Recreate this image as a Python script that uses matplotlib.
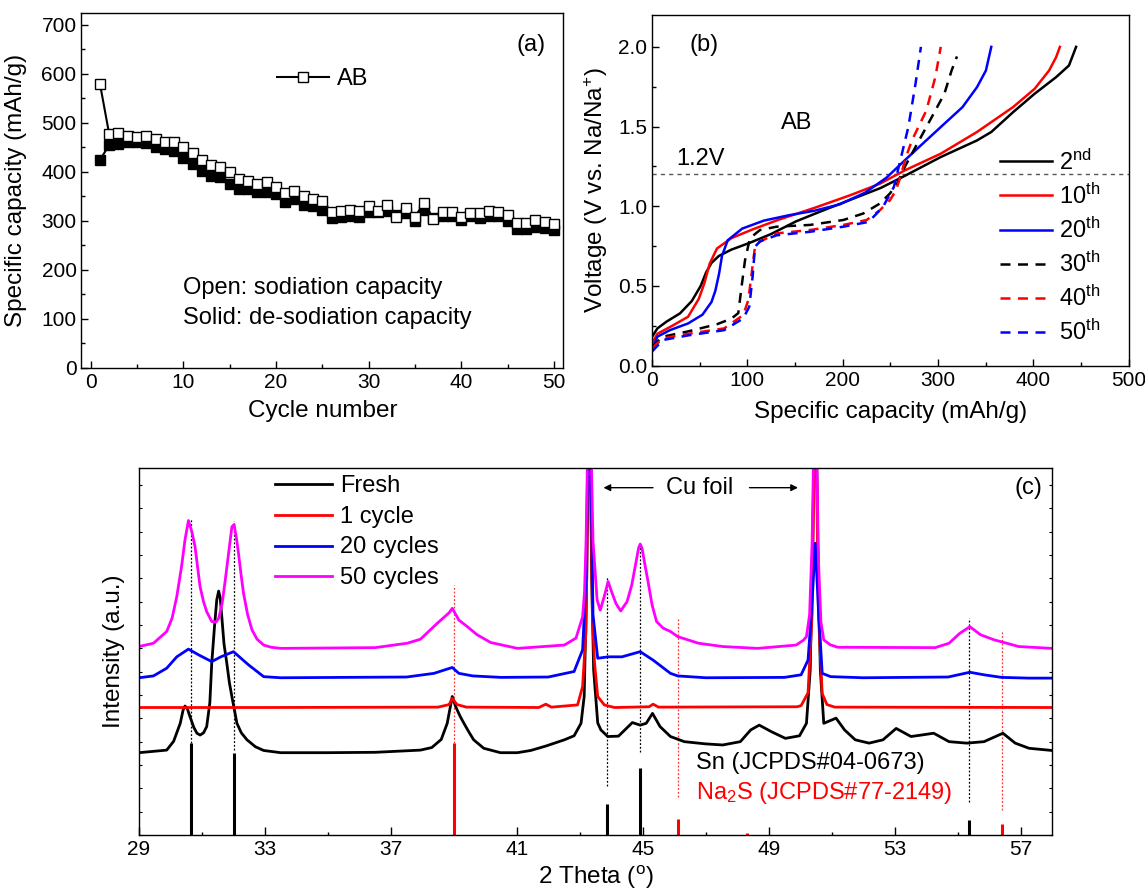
import numpy as np
import matplotlib
matplotlib.use('Agg')
import matplotlib.pyplot as plt
from matplotlib.ticker import MultipleLocator, NullFormatter, FormatStrFormatter

plt.rcParams['font.family'] = ['Liberation Sans', 'DejaVu Sans']
plt.rcParams['mathtext.fontset'] = 'custom'
plt.rcParams['mathtext.rm'] = 'Liberation Sans'
plt.rcParams['mathtext.it'] = 'Liberation Sans:italic'
plt.rcParams['axes.linewidth'] = 1.0

TICK_FS = 15
LABEL_FS = 17.5
TEXT_FS = 17

# ---------------- (a) cycling data ----------------
cycles = np.arange(1, 51)
sodiation = [580, 477, 479, 473, 471, 473, 467, 460, 460, 450, 438, 424, 413, 409, 399,
             385, 381, 375, 379, 370, 357, 360, 351, 345, 341, 318, 321, 323, 321, 330,
             321, 332, 308, 327, 308, 337, 304, 319, 319, 307, 315, 315, 320, 319, 312,
             296, 295, 302, 298, 293]
desodiation = [424, 455, 457, 460, 460, 458, 450, 446, 442, 428, 415, 402, 392, 390, 375,
               365, 365, 358, 358, 355, 338, 345, 333, 330, 322, 305, 308, 310, 307, 318,
               318, 320, 312, 315, 300, 322, 305, 310, 310, 302, 310, 305, 310, 310, 300,
               283, 284, 287, 285, 282]

# ---------------- (b) voltage profiles ----------------
cap_2nd = [0, 5.7, 15.2, 29.4, 41.7, 51.1, 56.8, 62.5, 70.1, 83.3, 102.3, 125, 151, 180,
           210, 240, 265, 303, 341, 356, 379, 401.5, 424, 437.5, 445]
v_2nd = [0.18, 0.234, 0.276, 0.328, 0.405, 0.50, 0.585, 0.645, 0.688, 0.728, 0.770, 0.826,
         0.905, 0.975, 1.045, 1.115, 1.19, 1.309, 1.413, 1.466, 1.591, 1.706, 1.81, 1.883, 2.0]
cap_10th = [0, 5.7, 22.7, 37.9, 49.2, 54.9, 60.6, 68.2, 83.3, 106, 132.6, 170.5, 208.3,
            238.6, 265.2, 303, 341, 378.8, 401.5, 416.7, 424, 428]
v_10th = [0.14, 0.2, 0.255, 0.307, 0.42, 0.516, 0.641, 0.735, 0.80, 0.856, 0.915, 0.99,
          1.07, 1.14, 1.225, 1.330, 1.466, 1.622, 1.737, 1.852, 1.935, 2.0]
cap_20th = [0, 5.7, 18.9, 37.9, 53, 62.5, 66.5, 70.5, 73.5, 79.5, 94.7, 117.4, 143.9, 170.5,
            197, 223.5, 246.2, 265.2, 280.3, 303, 325.8, 341, 350.4, 356]
v_20th = [0.098, 0.182, 0.223, 0.265, 0.32, 0.40, 0.47, 0.58, 0.69, 0.787, 0.86, 0.91, 0.944,
          0.972, 1.012, 1.085, 1.18, 1.288, 1.372, 1.497, 1.622, 1.747, 1.852, 2.0]
cap_30th = [0, 11.4, 37.9, 68.2, 83.3, 90.6, 94, 97.6, 102.8, 113.3, 130.8, 165.8, 200.8,
            221.8, 239.3, 249.8, 258, 265.2, 276.5, 291.7, 306.8, 314.4, 320]
v_30th = [0.119, 0.182, 0.215, 0.26, 0.295, 0.33, 0.495, 0.66, 0.80, 0.851, 0.872, 0.883,
          0.914, 0.955, 1.018, 1.081, 1.15, 1.246, 1.372, 1.539, 1.706, 1.852, 1.94]
cap_40th = [0, 11.4, 37.9, 75.8, 95.8, 101.1, 104.6, 108.1, 113.3, 130.8, 165.8, 200.8,
            225.3, 239.3, 249.8, 256, 261.4, 266, 272.7, 287.9, 297.3, 303]
v_40th = [0.109, 0.171, 0.2, 0.234, 0.318, 0.412, 0.579, 0.746, 0.778, 0.830, 0.851, 0.883,
          0.914, 0.976, 1.039, 1.10, 1.20, 1.30, 1.413, 1.601, 1.81, 2.0]
cap_50th = [0, 11.4, 37.9, 75.8, 95.8, 102.1, 105.6, 108.1, 113.3, 130.8, 165.8, 200.8,
            227.3, 242.4, 253.8, 261.4, 269, 276.5, 282.2]
v_50th = [0.088, 0.161, 0.19, 0.223, 0.297, 0.37, 0.558, 0.746, 0.78, 0.818, 0.84, 0.872,
          0.902, 0.996, 1.121, 1.309, 1.497, 1.768, 2.0]

# ---------------- (c) XRD patterns (offset, a.u.) ----------------
fresh_x = [29.0, 29.88, 30.1, 30.31, 30.4, 30.46, 30.53, 30.62, 30.74, 30.84, 30.94, 31.05,
           31.15, 31.25, 31.31, 31.40, 31.47, 31.53, 31.58, 31.63, 31.70, 31.79, 31.87,
           31.95, 32.11, 32.25, 32.43, 32.7, 32.96, 33.5, 35.0, 36.5, 37.94,
           38.3, 38.6, 38.79, 38.88, 38.95, 39.06, 39.2, 39.32, 39.48, 39.63, 39.95, 40.48,
           41.02, 41.44, 41.92, 42.51, 42.82, 43.04, 43.14, 43.22, 43.30, 43.38, 43.44, 43.57,
           43.67, 43.89, 44.23, 44.67, 44.92, 45.11, 45.31, 45.55, 45.88, 46.32,
           46.99, 47.54, 48.10, 48.43, 48.70, 49.09, 49.53, 49.98, 50.20, 50.32,
           50.40, 50.48, 50.56, 50.64, 50.75, 51.14, 51.41, 51.75, 52.19, 52.63,
           53.05, 53.52, 53.85, 54.24, 54.73, 55.29, 55.84, 56.44, 56.83, 57.27, 58.0]
fresh_y = [22.4, 23.1, 25.5, 30.4, 34.0, 35.1, 34.5, 32.2, 29.3, 27.7, 27.2, 27.8,
           29.5, 36.0, 46.7, 57.0, 64.0, 66.4, 64.5, 59.4, 52.0, 46.7, 41.5,
           37.7, 30.4, 27.8, 25.9, 24.0, 23.0, 22.4, 22.4, 22.5, 23.1,
           23.8, 26.0, 30.4, 34.5, 37.7, 34.9, 32.3, 30.4, 28.0, 25.9, 23.6, 22.4,
           22.4, 23.0, 24.2, 25.9, 27.0, 30.4, 37.7, 70, 130, 70, 45, 30.5,
           28.6, 26.8, 26.9, 30.6, 29.9, 30.4, 33.1, 29.5, 26.8, 25.4,
           24.8, 24.5, 25.4, 28.6, 29.9, 28.1, 26.3, 27.0, 30.4, 45,
           80, 130, 80, 45, 30.4, 31.8, 28.6, 25.9, 25.0, 25.9,
           29.0, 26.8, 27.2, 27.7, 25.4, 25.0, 25.4, 27.7, 25.0, 23.6, 23.0]
c1_x = [29.0, 33.0, 38.5, 38.85, 38.95, 39.1, 39.4, 41.7, 41.92, 42.1, 42.93, 43.09, 43.2,
        43.30, 43.40, 43.47, 43.57, 43.78, 44.1, 45.2, 45.33, 45.5, 49.9, 50.03, 50.25,
        50.38, 50.48, 50.58, 50.70, 50.85, 51.1, 58.0]
c1_y = [34.7, 34.7, 34.8, 35.5, 37.2, 35.5, 34.8, 34.7, 35.6, 34.8, 35.4, 40.4, 55.8,
        130, 60, 46.7, 37.7, 35.4, 34.7, 34.9, 35.6, 34.8, 34.9, 35.2, 38.7,
        60, 130, 60, 38.5, 35.5, 34.8, 34.7]
c20_x = [29.0, 29.46, 29.88, 30.2, 30.57, 30.9, 31.31, 31.6, 32.0, 32.48, 32.96, 33.5,
         37.5, 38.37, 38.95, 39.16, 39.6, 40.5, 42.0, 42.82, 43.09, 43.2, 43.30, 43.42,
         43.57, 43.9, 44.34, 44.92, 45.33, 45.88, 46.11, 47.0, 49.5, 50.03, 50.25, 50.37,
         50.48, 50.59, 50.70, 50.97, 52.0, 54.7, 55.39, 55.84, 56.4, 57.27, 58.0]
c20_y = [42.8, 43.3, 45.4, 48.5, 50.6, 49.0, 47.2, 48.5, 49.9, 46.3, 43.1, 42.8,
         43.0, 44.0, 45.6, 44.0, 43.3, 42.9, 43.0, 44.5, 50.4, 70, 130, 60,
         48.1, 48.5, 48.5, 49.9, 47.6, 44.0, 43.3, 42.8, 42.9, 43.6, 47.6, 62,
         79.4, 60, 44.0, 43.1, 42.8, 43.0, 44.3, 43.6, 42.9, 42.7, 42.7]
c50_x = [29.0, 29.46, 29.88, 30.05, 30.2, 30.35, 30.46, 30.57, 30.68, 30.78, 30.86, 30.94,
         31.05, 31.15, 31.31, 31.45, 31.53, 31.64, 31.74, 31.85, 31.95, 32.02, 32.1, 32.16,
         32.24, 32.32, 32.45, 32.59, 32.75, 32.96, 33.2, 33.5, 36.5, 37.52, 37.94, 38.47,
         38.85, 38.95, 39.16, 39.43, 39.74, 40.17, 41.02, 42.51, 42.88, 43.09, 43.15, 43.2,
         43.30, 43.42, 43.55, 43.65, 43.78, 43.9, 44.02, 44.15, 44.3, 44.5, 44.65, 44.78,
         44.87, 44.92, 44.98, 45.06, 45.16, 45.3, 45.44, 45.65, 45.88, 46.11, 46.77, 47.54,
         48.65, 49.87, 50.1, 50.20, 50.30, 50.38, 50.48, 50.58, 50.66, 50.75, 50.95, 51.19,
         54.29, 54.73, 55.07, 55.39, 55.73, 56.17, 56.39, 56.94, 58.0]
c50_y = [51.3, 52.2, 55.4, 59.0, 64.9, 73.0, 80.3, 85.6, 82.5, 78.5, 73.0, 67.6,
         63.5, 60.8, 58.1, 58.0, 59.0, 63.0, 69.4, 77.0, 83.9, 84.5, 80.5, 76.7,
         71.0, 65.8, 60.0, 55.8, 53.3, 51.7, 51.1, 50.8, 51.0, 52.2, 53.3, 57.6,
         60.5, 61.7, 58.5, 56.7, 54.5, 52.4, 50.8, 51.7, 53.6, 59.4, 66.0, 80,
         130, 80, 64, 61.2, 65.0, 69.0, 66.0, 63.0, 61.0, 63.5, 68.0, 74.0,
         78.2, 79.2, 78.0, 74.0, 69.4, 62.5, 58.1, 56.3, 55.4, 54.0, 52.2, 51.3,
         50.8, 51.7, 53.0, 54.0, 60.0, 80, 130, 75, 58, 53.1, 51.8, 51.1,
         51.0, 52.2, 54.9, 56.7, 54.5, 53.1, 52.6, 51.3, 50.8]

# reference patterns (stick heights) and dotted guide lines
sn_pos = [30.64, 32.02, 43.87, 44.91, 55.36]
sn_h = [25.0, 22.4, 8.4, 18.3, 4.1]
sn_guide_lo = [25.0, 23.1, 13.2, 22.7, 9.1]
sn_guide_hi = [85.9, 85.6, 70.3, 78.8, 59.0]
na2s_pos = [39.01, 46.11, 48.32, 56.40]
na2s_h = [25.0, 4.3, 0.4, 3.0]
na2s_guide_pos = [39.01, 46.11, 56.40]
na2s_guide_lo = [25.0, 10.4, 6.8]
na2s_guide_hi = [68.1, 59.0, 55.4]

fig = plt.figure(figsize=(11.45, 8.93), dpi=100)

# ============================================================
# (a)
# ============================================================
ax = fig.add_axes([0.0711, 0.5882, 0.4207, 0.3976])
ax.plot(cycles, desodiation, '-s', color='k', mfc='k', mec='k', ms=6.8, mew=1, lw=1.5)
ax.plot(cycles, sodiation, '-s', color='k', mfc='white', mec='k', ms=6.8, mew=1, lw=1.5,
        label='AB')
ax.set_xlim(-1, 51)
ax.set_ylim(0, 725)
ax.xaxis.set_major_locator(MultipleLocator(10))
ax.xaxis.set_minor_locator(MultipleLocator(5))
ax.yaxis.set_major_locator(MultipleLocator(100))
ax.yaxis.set_minor_locator(MultipleLocator(50))
ax.tick_params(which='both', direction='in', labelsize=TICK_FS, width=1)
ax.tick_params(which='major', length=5)
ax.tick_params(which='minor', length=3)
ax.set_xlabel('Cycle number', fontsize=LABEL_FS)
ax.set_ylabel('Specific capacity (mAh/g)', fontsize=LABEL_FS)
ax.xaxis.set_label_coords(0.5, -0.092)
ax.yaxis.set_label_coords(-0.112, 0.5)
ax.legend(loc='center left', bbox_to_anchor=(0.407, 0.813), frameon=False,
          fontsize=TEXT_FS, handlelength=2.2, handletextpad=0.3, borderpad=0,
          borderaxespad=0)
ax.text(0.963, 0.909, '(a)', transform=ax.transAxes, fontsize=TEXT_FS, ha='right', va='center')
ax.text(0.21, 0.224, 'Open: sodiation capacity', transform=ax.transAxes, fontsize=TEXT_FS,
        va='center')
ax.text(0.21, 0.139, 'Solid: de-sodiation capacity', transform=ax.transAxes, fontsize=TEXT_FS,
        va='center')

# ============================================================
# (b)
# ============================================================
ax = fig.add_axes([0.5694, 0.5905, 0.4162, 0.3927])
dash = (0, (4, 3))
ax.axhline(1.2, color='#555555', ls=(0, (3, 3)), lw=1)
ax.plot(cap_2nd, v_2nd, color='k', lw=1.8, label='2$^{\\rm nd}$')
ax.plot(cap_10th, v_10th, color='#ff0000', lw=1.8, label='10$^{\\rm th}$')
ax.plot(cap_20th, v_20th, color='#0000ff', lw=1.8, label='20$^{\\rm th}$')
ax.plot(cap_30th, v_30th, color='k', lw=1.8, ls=dash, label='30$^{\\rm th}$')
ax.plot(cap_40th, v_40th, color='#ff0000', lw=1.8, ls=dash, label='40$^{\\rm th}$')
ax.plot(cap_50th, v_50th, color='#0000ff', lw=1.8, ls=dash, label='50$^{\\rm th}$')
ax.set_xlim(0, 500)
ax.set_ylim(0, 2.2)
ax.xaxis.set_major_locator(MultipleLocator(100))
ax.xaxis.set_minor_locator(MultipleLocator(50))
ax.yaxis.set_major_locator(MultipleLocator(0.5))
ax.yaxis.set_minor_locator(MultipleLocator(0.25))
ax.yaxis.set_major_formatter(FormatStrFormatter('%.1f'))
ax.tick_params(which='both', direction='in', labelsize=TICK_FS, width=1)
ax.tick_params(which='major', length=5)
ax.tick_params(which='minor', length=3)
ax.set_xlabel('Specific capacity (mAh/g)', fontsize=LABEL_FS)
ax.set_ylabel('Voltage (V vs. Na/Na$^{+}$)', fontsize=LABEL_FS)
ax.xaxis.set_label_coords(0.5, -0.1)
ax.yaxis.set_label_coords(-0.088, 0.5)
ax.legend(loc='upper left', bbox_to_anchor=(0.73, 0.617), frameon=False,
          fontsize=TEXT_FS, handlelength=2.2, handletextpad=0.3, labelspacing=0.38,
          borderpad=0, borderaxespad=0)
ax.text(26, 1.225, '1.2V', fontsize=TEXT_FS, va='bottom')
ax.text(152, 1.52, 'AB', fontsize=TEXT_FS, ha='center', va='center')
ax.text(55, 2.01, '(b)', fontsize=TEXT_FS, ha='center', va='center')

# ============================================================
# (c)
# ============================================================
ax = fig.add_axes([0.1214, 0.0650, 0.7974, 0.4113])
for x, lo, hi in zip(sn_pos, sn_guide_lo, sn_guide_hi):
    ax.plot([x, x], [lo, hi], color='k', ls=(0, (1.5, 1.5)), lw=0.9)
for x, lo, hi in zip(na2s_guide_pos, na2s_guide_lo, na2s_guide_hi):
    ax.plot([x, x], [lo, hi], color='#ff3333', ls=(0, (1.5, 1.5)), lw=0.9)
ax.vlines(sn_pos, 0, sn_h, color='k', lw=2.2)
ax.vlines(na2s_pos, 0, na2s_h, color='#ff0000', lw=2.2)
ax.plot(fresh_x, fresh_y, color='k', lw=2.0, label='Fresh')
ax.plot(c1_x, c1_y, color='#ff0000', lw=2.0, label='1 cycle')
ax.plot(c20_x, c20_y, color='#0000ff', lw=2.0, label='20 cycles')
ax.plot(c50_x, c50_y, color='#ff00ff', lw=2.0, label='50 cycles')
ax.set_xlim(29, 58)
ax.set_ylim(0, 100)
ax.set_xticks(np.arange(29, 58, 4))
ax.set_xticks(np.arange(31, 58, 4), minor=True)
ax.yaxis.set_major_locator(MultipleLocator(6.35))
ax.yaxis.set_major_formatter(NullFormatter())
ax.tick_params(axis='x', which='both', direction='in', labelsize=TICK_FS, width=1)
ax.tick_params(axis='x', which='major', length=5.5)
ax.tick_params(axis='x', which='minor', length=2.5)
ax.tick_params(axis='y', which='major', direction='in', length=2, width=0.8,
               left=True, right=True)
ax.set_xlabel('2 Theta ($^{\\rm o}$)', fontsize=LABEL_FS)
ax.set_ylabel('Intensity (a.u.)', fontsize=LABEL_FS)
ax.xaxis.set_label_coords(0.5, -0.078)
ax.yaxis.set_label_coords(-0.015, 0.5)
ax.legend(loc='upper left', bbox_to_anchor=(0.149, 0.98), frameon=False,
          fontsize=TEXT_FS, handlelength=2.4, handletextpad=0.35, labelspacing=0.37,
          borderpad=0, borderaxespad=0, handleheight=0.6)
ax.text(0.6137, 0.9455, 'Cu foil', transform=ax.transAxes, fontsize=TEXT_FS,
        ha='center', va='center')
ax.annotate('', xy=(0.5057, 0.9455), xytext=(0.566, 0.9455), xycoords='axes fraction',
            arrowprops=dict(arrowstyle='-|>', color='k', lw=1, mutation_scale=10))
ax.annotate('', xy=(0.7248, 0.9455), xytext=(0.6656, 0.9455), xycoords='axes fraction',
            arrowprops=dict(arrowstyle='-|>', color='k', lw=1, mutation_scale=10))
ax.text(0.989, 0.944, '(c)', transform=ax.transAxes, fontsize=TEXT_FS, ha='right',
        va='center')
ax.text(0.6096, 0.195, 'Sn (JCPDS#04-0673)', transform=ax.transAxes, fontsize=TEXT_FS,
        va='center')
ax.text(0.6096, 0.1135, 'Na$_{2}$S (JCPDS#77-2149)', transform=ax.transAxes,
        fontsize=TEXT_FS, va='center', color='#ff0000')

fig.savefig('out.png', dpi=100)
